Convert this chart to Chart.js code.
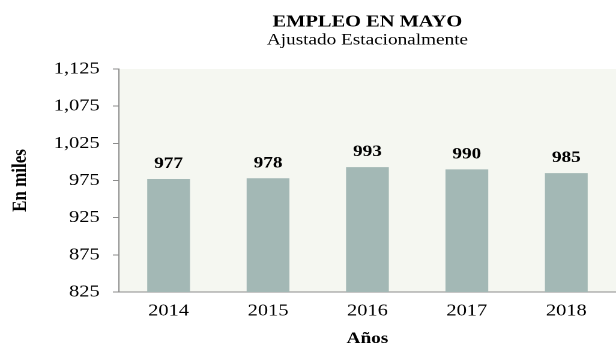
<!DOCTYPE html>
<html>
<head>
<meta charset="utf-8">
<script src="https://cdn.jsdelivr.net/npm/chart.js"></script>
<style>
    body { margin: 0; background: #fff; }
    /* the chart is laid out 513 wide and shown stretched to 616 */
    #empleo { width: 616px !important; height: 345px !important; }
</style>
</head>
<body>
<canvas id="empleo" width="513" height="345"></canvas>
<script>
const years = ['2014', '2015', '2016', '2017', '2018'];
const empleo = [977, 978, 993, 990, 985];
const yTicks = [825, 875, 925, 975, 1025, 1075, 1125];

Chart.defaults.font.family = '"Liberation Serif", "Times New Roman", serif';
Chart.defaults.color = '#000';

// light fill behind the plot area only
const plotBackground = {
    id: 'plotBackground',
    beforeDraw(chart) {
        const {ctx, chartArea} = chart;
        ctx.save();
        ctx.fillStyle = '#F5F7F1';
        ctx.fillRect(chartArea.left, chartArea.top, chartArea.right - chartArea.left, chartArea.bottom - chartArea.top);
        ctx.restore();
    }
};

// value printed above each bar
const barValues = {
    id: 'barValues',
    afterDatasetsDraw(chart) {
        const {ctx} = chart;
        const meta = chart.getDatasetMeta(0);
        ctx.save();
        ctx.font = 'bold 16px "Liberation Serif"';
        ctx.fillStyle = '#000';
        ctx.textAlign = 'center';
        ctx.textBaseline = 'alphabetic';
        meta.data.forEach((bar, i) => {
            ctx.fillText(empleo[i], bar.x, bar.y - 11);
        });
        ctx.restore();
    }
};

const data = {
    labels: years,
    datasets: [{
        label: 'Empleo',
        data: empleo,
        backgroundColor: '#A3B8B5',
        barPercentage: 0.43,
        categoryPercentage: 1,
    }]
};

const config = {
    type: 'bar',
    data: data,
    plugins: [plotBackground, barValues],
    options: {
        responsive: false,
        devicePixelRatio: 2,
        animation: false,
        locale: 'en-US',
        layout: { padding: 0 },
        plugins: {
            legend: { display: false },
            tooltip: { enabled: false },
            title: {
                display: true,
                text: 'EMPLEO EN MAYO',
                fullSize: false,
                color: '#000',
                font: { size: 17, weight: 'bold' },
                padding: { top: 12, bottom: 0 }
            },
            subtitle: {
                display: true,
                text: 'Ajustado Estacionalmente',
                fullSize: false,
                color: '#000',
                font: { size: 16, lineHeight: 1 },
                padding: { top: 0, bottom: 20.6 }
            }
        },
        scales: {
            x: {
                grid: { display: false, drawTicks: false },
                border: { display: true, color: '#8C8C8C' },
                ticks: { color: '#000', font: { size: 17 }, padding: 9 },
                title: {
                    display: true,
                    text: 'Años',
                    color: '#000',
                    font: { size: 16, weight: 'bold', lineHeight: 0.75 },
                    padding: 0
                },
                afterFit(scale) { scale.height = 53; }
            },
            y: {
                min: yTicks[0],
                max: yTicks[yTicks.length - 1],
                grid: { drawOnChartArea: false, tickLength: 5, color: '#8C8C8C' },
                border: { display: true, color: '#8C8C8C' },
                ticks: {
                    stepSize: yTicks[1] - yTicks[0],
                    color: '#000',
                    font: { size: 17 },
                    padding: 11
                },
                title: {
                    display: true,
                    text: 'En miles',
                    color: '#000',
                    font: { size: 17, weight: 'bold' },
                    padding: { top: 7, bottom: 0 }
                },
                afterFit(scale) { scale.width = 99; }
            }
        }
    }
};

var empleoChart = new Chart(
    document.getElementById('empleo'),
    config
);
</script>
</body>
</html>
